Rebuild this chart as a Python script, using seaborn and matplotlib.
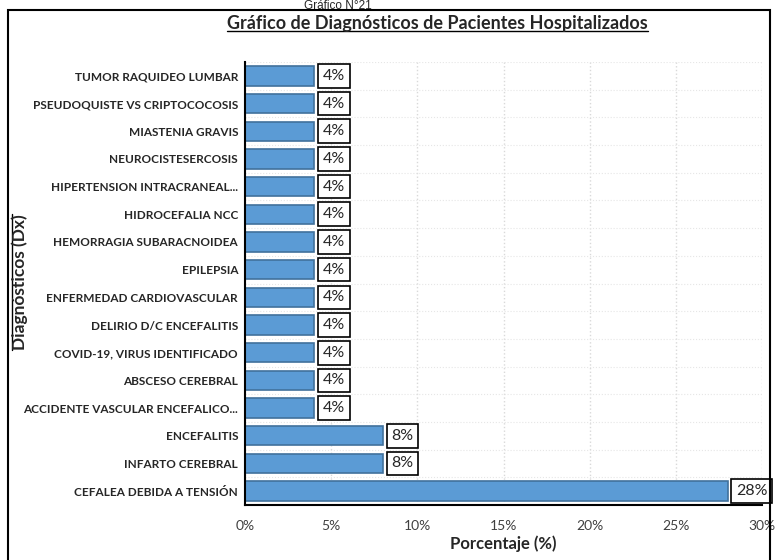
import numpy as np
import pandas as pd
import seaborn as sns
import matplotlib.pyplot as plt
from matplotlib.lines import Line2D
from matplotlib.patches import Rectangle
from matplotlib.ticker import MultipleLocator, FuncFormatter

diagnosticos = [
    "TUMOR RAQUIDEO LUMBAR",
    "PSEUDOQUISTE VS CRIPTOCOCOSIS",
    "MIASTENIA GRAVIS",
    "NEUROCISTESERCOSIS",
    "HIPERTENSION INTRACRANEAL...",
    "HIDROCEFALIA NCC",
    "HEMORRAGIA SUBARACNOIDEA",
    "EPILEPSIA",
    "ENFERMEDAD CARDIOVASCULAR",
    "DELIRIO D/C ENCEFALITIS",
    "COVID-19, VIRUS IDENTIFICADO",
    "ABSCESO CEREBRAL",
    "ACCIDENTE VASCULAR ENCEFALICO...",
    "ENCEFALITIS",
    "INFARTO CEREBRAL",
    "CEFALEA DEBIDA A TENSIÓN",
]
porcentajes = [4, 4, 4, 4, 4, 4, 4, 4, 4, 4, 4, 4, 4, 8, 8, 28]

df = pd.DataFrame({"Dx": diagnosticos, "Porcentaje": porcentajes})

sns.set_style("white")
plt.rcParams["font.family"] = ["Lato", "DejaVu Sans"]

fig = plt.figure(figsize=(7.76, 5.6), dpi=100)
ax = fig.add_axes([245 / 776, 1 - 505 / 560, 517 / 776, 443 / 560])

sns.barplot(data=df, x="Porcentaje", y="Dx", order=diagnosticos, orient="h",
            color="#5B9BD5", edgecolor="#41719C", linewidth=1.2,
            saturation=1, width=0.7, ax=ax)

ax.set_xlim(0, 30)
ax.set_ylim(len(diagnosticos) - 0.5, -0.5)
ax.xaxis.set_major_locator(MultipleLocator(5))
ax.xaxis.set_minor_locator(MultipleLocator(1))
ax.xaxis.set_major_formatter(FuncFormatter(lambda v, p: f"{v:.0f}%"))

# category boundary ticks + light gridlines
ax.set_yticks(np.arange(-0.5, len(diagnosticos), 1), minor=True)
ax.grid(axis="x", which="major", color="#d9d9d9", linestyle=":", linewidth=1)
ax.grid(axis="y", which="minor", color="#e6e6e6", linestyle=":", linewidth=0.8)
ax.grid(axis="y", which="major", visible=False)
ax.set_axisbelow(True)

ax.tick_params(axis="y", which="minor", length=5, width=1.2, color="black", direction="out")
ax.tick_params(axis="y", which="major", length=3, width=1, color="black", labelsize=8.5, pad=2)
ax.tick_params(axis="x", which="both", direction="out", color="black", width=1.2)
ax.tick_params(axis="x", which="major", length=5, labelsize=10, pad=6, labelcolor="#404040")
ax.tick_params(axis="x", which="minor", length=4)
for lab in ax.get_yticklabels():
    lab.set_fontweight("bold")

for side in ["top", "right"]:
    ax.spines[side].set_visible(False)
for side in ["left", "bottom"]:
    ax.spines[side].set_color("black")
    ax.spines[side].set_linewidth(1.5)

ax.set_ylabel("")
ax.set_xlabel("Porcentaje (%)", fontsize=12, fontweight="bold", labelpad=2)

# value labels in boxes
for i, v in enumerate(porcentajes):
    ax.text(v + 0.5, i, f"{v}%", va="center", ha="left", fontsize=11.5,
            bbox=dict(boxstyle="square,pad=0.3", facecolor="white",
                      edgecolor="black", linewidth=1.2))

# outer frame
fig.patches.append(Rectangle((8 / 776, -0.05), 762 / 776, 1 - 10 / 560 + 0.05,
                             transform=fig.transFigure, fill=False,
                             edgecolor="black", linewidth=1.5))

fig.text(0.435, 1.0, "Gráfico N°21", ha="center", va="top", fontsize=8.5,
         family=["Liberation Sans", "DejaVu Sans"])
title = fig.text(0.564, 1 - 24 / 560, "Gráfico de Diagnósticos de Pacientes Hospitalizados",
                 ha="center", va="center", fontsize=13, fontweight="bold")
ylab = fig.text(20 / 776, 1 - 282 / 560, "Diagnósticos (Dx)", ha="center", va="center",
                rotation=90, fontsize=12.5, fontweight="bold")

# underline title and y label
fig.canvas.draw()
renderer = fig.canvas.get_renderer()
inv = fig.transFigure.inverted()
bb = title.get_window_extent(renderer).transformed(inv)
fig.add_artist(Line2D([bb.x0, bb.x1], [bb.y0 + 0.002, bb.y0 + 0.002], color="black",
                      linewidth=1, transform=fig.transFigure))
bb = ylab.get_window_extent(renderer).transformed(inv)
fig.add_artist(Line2D([bb.x0 + 0.001, bb.x0 + 0.001], [bb.y0, bb.y1], color="black",
                      linewidth=1, transform=fig.transFigure))

fig.savefig("out.png", dpi=100)
